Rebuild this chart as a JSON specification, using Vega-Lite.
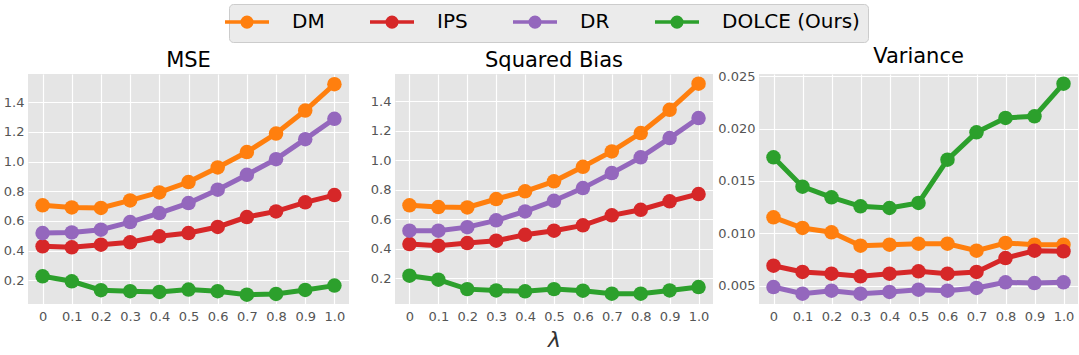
{
"$schema": "https://vega.github.io/schema/vega-lite/v6.json",
"background": "white",
"padding": {"left": 3, "top": 3, "right": 0, "bottom": 0},
"config": {
  "font": "DejaVu Sans",
  "view": {"fill": "#e5e5e5", "stroke": null},
  "axis": {"grid": true, "gridColor": "white", "gridWidth": 1.2, "domain": false, "ticks": false, "labelFontSize": 13, "labelColor": "#555555", "labelFont": "DejaVu Sans"},
  "axisX": {"labelPadding": 6, "labelAngle": 0},
  "axisY": {"labelPadding": 4},
  "title": {"fontSize": 21, "fontWeight": "normal", "color": "black", "font": "DejaVu Sans", "baseline": "alphabetic", "offset": 3}
},
"bounds": "flush",
"spacing": 46,
"resolve": {"scale": {"y": "independent"}},
"data": {"values": [
{"metric":"MSE","method":"DM","lambda":"0","value":0.705},
{"metric":"MSE","method":"DM","lambda":"0.1","value":0.691},
{"metric":"MSE","method":"DM","lambda":"0.2","value":0.687},
{"metric":"MSE","method":"DM","lambda":"0.3","value":0.738},
{"metric":"MSE","method":"DM","lambda":"0.4","value":0.792},
{"metric":"MSE","method":"DM","lambda":"0.5","value":0.862},
{"metric":"MSE","method":"DM","lambda":"0.6","value":0.960},
{"metric":"MSE","method":"DM","lambda":"0.7","value":1.064},
{"metric":"MSE","method":"DM","lambda":"0.8","value":1.189},
{"metric":"MSE","method":"DM","lambda":"0.9","value":1.344},
{"metric":"MSE","method":"DM","lambda":"1.0","value":1.521},
{"metric":"MSE","method":"IPS","lambda":"0","value":0.429},
{"metric":"MSE","method":"IPS","lambda":"0.1","value":0.422},
{"metric":"MSE","method":"IPS","lambda":"0.2","value":0.440},
{"metric":"MSE","method":"IPS","lambda":"0.3","value":0.456},
{"metric":"MSE","method":"IPS","lambda":"0.4","value":0.496},
{"metric":"MSE","method":"IPS","lambda":"0.5","value":0.518},
{"metric":"MSE","method":"IPS","lambda":"0.6","value":0.559},
{"metric":"MSE","method":"IPS","lambda":"0.7","value":0.626},
{"metric":"MSE","method":"IPS","lambda":"0.8","value":0.664},
{"metric":"MSE","method":"IPS","lambda":"0.9","value":0.725},
{"metric":"MSE","method":"IPS","lambda":"1.0","value":0.774},
{"metric":"MSE","method":"DR","lambda":"0","value":0.518},
{"metric":"MSE","method":"DR","lambda":"0.1","value":0.522},
{"metric":"MSE","method":"DR","lambda":"0.2","value":0.541},
{"metric":"MSE","method":"DR","lambda":"0.3","value":0.592},
{"metric":"MSE","method":"DR","lambda":"0.4","value":0.653},
{"metric":"MSE","method":"DR","lambda":"0.5","value":0.720},
{"metric":"MSE","method":"DR","lambda":"0.6","value":0.810},
{"metric":"MSE","method":"DR","lambda":"0.7","value":0.911},
{"metric":"MSE","method":"DR","lambda":"0.8","value":1.016},
{"metric":"MSE","method":"DR","lambda":"0.9","value":1.151},
{"metric":"MSE","method":"DR","lambda":"1.0","value":1.288},
{"metric":"MSE","method":"DOLCE (Ours)","lambda":"0","value":0.227},
{"metric":"MSE","method":"DOLCE (Ours)","lambda":"0.1","value":0.193},
{"metric":"MSE","method":"DOLCE (Ours)","lambda":"0.2","value":0.133},
{"metric":"MSE","method":"DOLCE (Ours)","lambda":"0.3","value":0.126},
{"metric":"MSE","method":"DOLCE (Ours)","lambda":"0.4","value":0.121},
{"metric":"MSE","method":"DOLCE (Ours)","lambda":"0.5","value":0.137},
{"metric":"MSE","method":"DOLCE (Ours)","lambda":"0.6","value":0.126},
{"metric":"MSE","method":"DOLCE (Ours)","lambda":"0.7","value":0.103},
{"metric":"MSE","method":"DOLCE (Ours)","lambda":"0.8","value":0.108},
{"metric":"MSE","method":"DOLCE (Ours)","lambda":"0.9","value":0.135},
{"metric":"MSE","method":"DOLCE (Ours)","lambda":"1.0","value":0.164},
{"metric":"Squared Bias","method":"DM","lambda":"0","value":0.694},
{"metric":"Squared Bias","method":"DM","lambda":"0.1","value":0.682},
{"metric":"Squared Bias","method":"DM","lambda":"0.2","value":0.680},
{"metric":"Squared Bias","method":"DM","lambda":"0.3","value":0.737},
{"metric":"Squared Bias","method":"DM","lambda":"0.4","value":0.789},
{"metric":"Squared Bias","method":"DM","lambda":"0.5","value":0.857},
{"metric":"Squared Bias","method":"DM","lambda":"0.6","value":0.956},
{"metric":"Squared Bias","method":"DM","lambda":"0.7","value":1.060},
{"metric":"Squared Bias","method":"DM","lambda":"0.8","value":1.185},
{"metric":"Squared Bias","method":"DM","lambda":"0.9","value":1.343},
{"metric":"Squared Bias","method":"DM","lambda":"1.0","value":1.520},
{"metric":"Squared Bias","method":"IPS","lambda":"0","value":0.431},
{"metric":"Squared Bias","method":"IPS","lambda":"0.1","value":0.420},
{"metric":"Squared Bias","method":"IPS","lambda":"0.2","value":0.438},
{"metric":"Squared Bias","method":"IPS","lambda":"0.3","value":0.454},
{"metric":"Squared Bias","method":"IPS","lambda":"0.4","value":0.494},
{"metric":"Squared Bias","method":"IPS","lambda":"0.5","value":0.522},
{"metric":"Squared Bias","method":"IPS","lambda":"0.6","value":0.558},
{"metric":"Squared Bias","method":"IPS","lambda":"0.7","value":0.626},
{"metric":"Squared Bias","method":"IPS","lambda":"0.8","value":0.664},
{"metric":"Squared Bias","method":"IPS","lambda":"0.9","value":0.721},
{"metric":"Squared Bias","method":"IPS","lambda":"1.0","value":0.771},
{"metric":"Squared Bias","method":"DR","lambda":"0","value":0.522},
{"metric":"Squared Bias","method":"DR","lambda":"0.1","value":0.522},
{"metric":"Squared Bias","method":"DR","lambda":"0.2","value":0.546},
{"metric":"Squared Bias","method":"DR","lambda":"0.3","value":0.592},
{"metric":"Squared Bias","method":"DR","lambda":"0.4","value":0.653},
{"metric":"Squared Bias","method":"DR","lambda":"0.5","value":0.725},
{"metric":"Squared Bias","method":"DR","lambda":"0.6","value":0.811},
{"metric":"Squared Bias","method":"DR","lambda":"0.7","value":0.913},
{"metric":"Squared Bias","method":"DR","lambda":"0.8","value":1.020},
{"metric":"Squared Bias","method":"DR","lambda":"0.9","value":1.151},
{"metric":"Squared Bias","method":"DR","lambda":"1.0","value":1.287},
{"metric":"Squared Bias","method":"DOLCE (Ours)","lambda":"0","value":0.216},
{"metric":"Squared Bias","method":"DOLCE (Ours)","lambda":"0.1","value":0.189},
{"metric":"Squared Bias","method":"DOLCE (Ours)","lambda":"0.2","value":0.125},
{"metric":"Squared Bias","method":"DOLCE (Ours)","lambda":"0.3","value":0.116},
{"metric":"Squared Bias","method":"DOLCE (Ours)","lambda":"0.4","value":0.110},
{"metric":"Squared Bias","method":"DOLCE (Ours)","lambda":"0.5","value":0.125},
{"metric":"Squared Bias","method":"DOLCE (Ours)","lambda":"0.6","value":0.114},
{"metric":"Squared Bias","method":"DOLCE (Ours)","lambda":"0.7","value":0.094},
{"metric":"Squared Bias","method":"DOLCE (Ours)","lambda":"0.8","value":0.094},
{"metric":"Squared Bias","method":"DOLCE (Ours)","lambda":"0.9","value":0.116},
{"metric":"Squared Bias","method":"DOLCE (Ours)","lambda":"1.0","value":0.139},
{"metric":"Variance","method":"DM","lambda":"0","value":0.01153},
{"metric":"Variance","method":"DM","lambda":"0.1","value":0.01051},
{"metric":"Variance","method":"DM","lambda":"0.2","value":0.0101},
{"metric":"Variance","method":"DM","lambda":"0.3","value":0.00882},
{"metric":"Variance","method":"DM","lambda":"0.4","value":0.00892},
{"metric":"Variance","method":"DM","lambda":"0.5","value":0.00901},
{"metric":"Variance","method":"DM","lambda":"0.6","value":0.00901},
{"metric":"Variance","method":"DM","lambda":"0.7","value":0.00834},
{"metric":"Variance","method":"DM","lambda":"0.8","value":0.00908},
{"metric":"Variance","method":"DM","lambda":"0.9","value":0.00892},
{"metric":"Variance","method":"DM","lambda":"1.0","value":0.00892},
{"metric":"Variance","method":"IPS","lambda":"0","value":0.00691},
{"metric":"Variance","method":"IPS","lambda":"0.1","value":0.00631},
{"metric":"Variance","method":"IPS","lambda":"0.2","value":0.00615},
{"metric":"Variance","method":"IPS","lambda":"0.3","value":0.00589},
{"metric":"Variance","method":"IPS","lambda":"0.4","value":0.00615},
{"metric":"Variance","method":"IPS","lambda":"0.5","value":0.00637},
{"metric":"Variance","method":"IPS","lambda":"0.6","value":0.00615},
{"metric":"Variance","method":"IPS","lambda":"0.7","value":0.00631},
{"metric":"Variance","method":"IPS","lambda":"0.8","value":0.00764},
{"metric":"Variance","method":"IPS","lambda":"0.9","value":0.00834},
{"metric":"Variance","method":"IPS","lambda":"1.0","value":0.00828},
{"metric":"Variance","method":"DR","lambda":"0","value":0.00487},
{"metric":"Variance","method":"DR","lambda":"0.1","value":0.00424},
{"metric":"Variance","method":"DR","lambda":"0.2","value":0.00452},
{"metric":"Variance","method":"DR","lambda":"0.3","value":0.00424},
{"metric":"Variance","method":"DR","lambda":"0.4","value":0.0044},
{"metric":"Variance","method":"DR","lambda":"0.5","value":0.00462},
{"metric":"Variance","method":"DR","lambda":"0.6","value":0.00452},
{"metric":"Variance","method":"DR","lambda":"0.7","value":0.00478},
{"metric":"Variance","method":"DR","lambda":"0.8","value":0.00532},
{"metric":"Variance","method":"DR","lambda":"0.9","value":0.00525},
{"metric":"Variance","method":"DR","lambda":"1.0","value":0.00532},
{"metric":"Variance","method":"DOLCE (Ours)","lambda":"0","value":0.01726},
{"metric":"Variance","method":"DOLCE (Ours)","lambda":"0.1","value":0.01446},
{"metric":"Variance","method":"DOLCE (Ours)","lambda":"0.2","value":0.01344},
{"metric":"Variance","method":"DOLCE (Ours)","lambda":"0.3","value":0.01258},
{"metric":"Variance","method":"DOLCE (Ours)","lambda":"0.4","value":0.01242},
{"metric":"Variance","method":"DOLCE (Ours)","lambda":"0.5","value":0.0129},
{"metric":"Variance","method":"DOLCE (Ours)","lambda":"0.6","value":0.01704},
{"metric":"Variance","method":"DOLCE (Ours)","lambda":"0.7","value":0.01965},
{"metric":"Variance","method":"DOLCE (Ours)","lambda":"0.8","value":0.02102},
{"metric":"Variance","method":"DOLCE (Ours)","lambda":"0.9","value":0.02118},
{"metric":"Variance","method":"DOLCE (Ours)","lambda":"1.0","value":0.0243}
]},
"hconcat": [
{
  "title": "MSE",
  "width": 321, "height": 230,
  "transform": [{"filter": "datum.metric === 'MSE'"}],
  "encoding": {
    "x": {"field": "lambda", "type": "ordinal", "sort": ["0","0.1","0.2","0.3","0.4","0.5","0.6","0.7","0.8","0.9","1.0"], "scale": {"type": "point", "padding": 0.5}, "axis": {"title": null}},
    "y": {"field": "value", "type": "quantitative", "scale": {"domain": [0.04, 1.59], "nice": false, "zero": false}, "axis": {"title": null, "values": [0.2,0.4,0.6,0.8,1.0,1.2,1.4], "format": ".1f"}},
    "color": {"field": "method", "type": "nominal", "scale": {"domain": ["DM","IPS","DR","DOLCE (Ours)"], "range": ["#ff7f0e","#d62728","#9467bd","#2ca02c"]},
      "legend": {"title": null, "orient": "none", "legendX": 201, "legendY": -70, "direction": "horizontal", "symbolType": "M-2.75,0L2.75,0M0.6,0A0.6,0.6,0,1,1,-0.6,0A0.6,0.6,0,1,1,0.6,0Z", "symbolSize": 256, "symbolStrokeWidth": 3.5, "symbolOpacity": 1, "labelFontSize": 20, "labelColor": "black", "labelFont": "DejaVu Sans", "labelOffset": 35, "columnPadding": 38, "fillColor": "#ebebeb", "strokeColor": "#cccccc", "cornerRadius": 4, "padding": 8,
        "encode": {"symbols": {"update": {"fill": {"scale": "color", "field": "value"}, "stroke": {"scale": "color", "field": "value"}}}}}}
  },
  "layer": [
    {"mark": {"type": "line", "strokeWidth": 5}},
    {"mark": {"type": "point", "filled": true, "size": 210, "opacity": 1}}
  ]
},
{
  "title": "Squared Bias",
  "width": 318, "height": 230,
  "transform": [{"filter": "datum.metric === 'Squared Bias'"}],
  "encoding": {
    "x": {"field": "lambda", "type": "ordinal", "sort": ["0","0.1","0.2","0.3","0.4","0.5","0.6","0.7","0.8","0.9","1.0"], "scale": {"type": "point", "padding": 0.5}, "axis": {"title": "λ", "titleFontSize": 22, "titleFontStyle": "italic", "titleFontWeight": "normal", "titleColor": "#333333", "titlePadding": 6, "titleFont": "DejaVu Sans"}},
    "y": {"field": "value", "type": "quantitative", "scale": {"domain": [0.024, 1.586], "nice": false, "zero": false}, "axis": {"title": null, "values": [0.2,0.4,0.6,0.8,1.0,1.2,1.4], "format": ".1f"}},
    "color": {"field": "method", "type": "nominal", "scale": {"domain": ["DM","IPS","DR","DOLCE (Ours)"], "range": ["#ff7f0e","#d62728","#9467bd","#2ca02c"]},
      "legend": {"title": null, "orient": "none", "legendX": 201, "legendY": -70, "direction": "horizontal", "symbolType": "M-2.75,0L2.75,0M0.6,0A0.6,0.6,0,1,1,-0.6,0A0.6,0.6,0,1,1,0.6,0Z", "symbolSize": 256, "symbolStrokeWidth": 3.5, "symbolOpacity": 1, "labelFontSize": 20, "labelColor": "black", "labelFont": "DejaVu Sans", "labelOffset": 35, "columnPadding": 38, "fillColor": "#ebebeb", "strokeColor": "#cccccc", "cornerRadius": 4, "padding": 8,
        "encode": {"symbols": {"update": {"fill": {"scale": "color", "field": "value"}, "stroke": {"scale": "color", "field": "value"}}}}}}
  },
  "layer": [
    {"mark": {"type": "line", "strokeWidth": 5}},
    {"mark": {"type": "point", "filled": true, "size": 210, "opacity": 1}}
  ]
},
{
  "title": "Variance",
  "width": 319, "height": 230,
  "transform": [{"filter": "datum.metric === 'Variance'"}],
  "encoding": {
    "x": {"field": "lambda", "type": "ordinal", "sort": ["0","0.1","0.2","0.3","0.4","0.5","0.6","0.7","0.8","0.9","1.0"], "scale": {"type": "point", "padding": 0.5}, "axis": {"title": null}},
    "y": {"field": "value", "type": "quantitative", "scale": {"domain": [0.00325, 0.02522], "nice": false, "zero": false}, "axis": {"title": null, "values": [0.005,0.01,0.015,0.02,0.025], "format": ".3f"}},
    "color": {"field": "method", "type": "nominal", "scale": {"domain": ["DM","IPS","DR","DOLCE (Ours)"], "range": ["#ff7f0e","#d62728","#9467bd","#2ca02c"]},
      "legend": {"title": null, "orient": "none", "legendX": 201, "legendY": -70, "direction": "horizontal", "symbolType": "M-2.75,0L2.75,0M0.6,0A0.6,0.6,0,1,1,-0.6,0A0.6,0.6,0,1,1,0.6,0Z", "symbolSize": 256, "symbolStrokeWidth": 3.5, "symbolOpacity": 1, "labelFontSize": 20, "labelColor": "black", "labelFont": "DejaVu Sans", "labelOffset": 35, "columnPadding": 38, "fillColor": "#ebebeb", "strokeColor": "#cccccc", "cornerRadius": 4, "padding": 8,
        "encode": {"symbols": {"update": {"fill": {"scale": "color", "field": "value"}, "stroke": {"scale": "color", "field": "value"}}}}}}
  },
  "layer": [
    {"mark": {"type": "line", "strokeWidth": 5}},
    {"mark": {"type": "point", "filled": true, "size": 210, "opacity": 1}}
  ]
}
]
}
